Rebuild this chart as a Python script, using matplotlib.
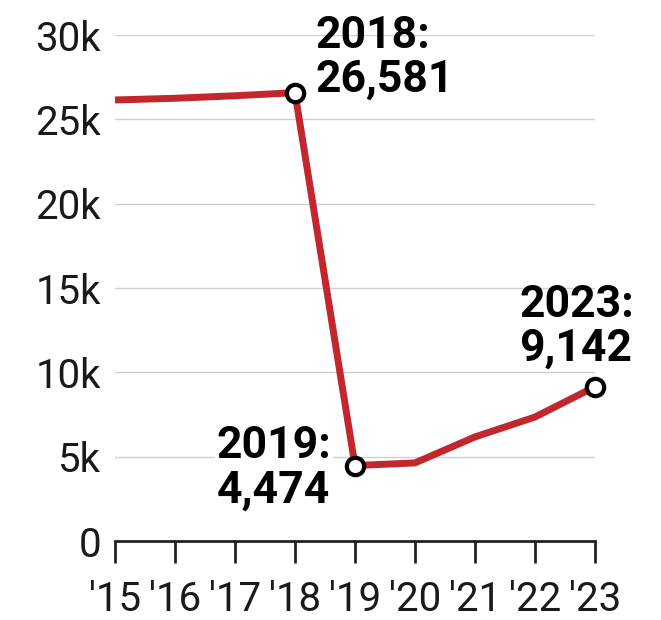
import matplotlib
matplotlib.use("Agg")
import matplotlib.pyplot as plt

# ─── data ───────────────────────────────────────────────────────────────
years = [2015, 2016, 2017, 2018, 2019, 2020, 2021, 2022, 2023]
values = [26150, 26250, 26400, 26581, 4474, 4630, 6170, 7350, 9142]
year_labels = ["'15", "'16", "'17", "'18", "'19", "'20", "'21", "'22", "'23"]
y_ticks = [0, 5000, 10000, 15000, 20000, 25000, 30000]
y_labels = ["0", "5k", "10k", "15k", "20k", "25k", "30k"]
highlight = [2018, 2019, 2023]
# ────────────────────────────────────────────────────────────────────────

plt.rcParams["font.family"] = ["Roboto", "DejaVu Sans"]

RED = "#c1272d"

fig = plt.figure(figsize=(6.61, 6.20), dpi=100)
ax = fig.add_axes([0.174, 0.1274, 0.726, 0.8161])

ax.plot(years, values, color=RED, lw=5, solid_capstyle="butt", zorder=3, clip_on=False)

hl_vals = [values[years.index(y)] for y in highlight]
ax.plot(highlight, hl_vals, ls="none", marker="o", ms=12.5, mfc="white",
        mec="black", mew=3, zorder=5, clip_on=False)

ax.set_xlim(years[0], years[-1])
ax.set_ylim(0, 30000)
ax.set_yticks(y_ticks)
ax.set_yticklabels(y_labels)
ax.set_xticks(years)
ax.set_xticklabels(year_labels)

ax.tick_params(axis="y", length=0, pad=10, labelsize=29, labelcolor="#1a1a1a")
ax.tick_params(axis="x", length=16, width=2, direction="out", pad=12,
               labelsize=29, color="#222222", labelcolor="#1a1a1a")

for side in ["left", "right", "top"]:
    ax.spines[side].set_visible(False)
ax.spines["bottom"].set_linewidth(2)
ax.spines["bottom"].set_color("#222222")

ax.grid(axis="y", color="#d0d0d0", lw=1)
ax.set_axisbelow(True)

bbox = dict(facecolor="white", edgecolor="none", pad=1)
ax.annotate("2018:\n26,581", xy=(2018, values[3]), xytext=(15, -6),
            textcoords="offset points", ha="left", va="bottom",
            fontsize=32, fontweight="bold", linespacing=1.07, zorder=6)
ax.annotate("2019:\n4,474", xy=(2019, values[4]), xytext=(-17, -2),
            textcoords="offset points", ha="right", va="center",
            multialignment="left", fontsize=32, fontweight="bold",
            linespacing=1.07, bbox=bbox, zorder=6)
ax.annotate("2023:\n9,142", xy=(2023, values[8]), xytext=(-13, 12),
            textcoords="offset points", ha="center", va="bottom",
            multialignment="left", fontsize=32, fontweight="bold",
            linespacing=1.07, zorder=6)

fig.savefig("out.png", dpi=100, facecolor="white")
